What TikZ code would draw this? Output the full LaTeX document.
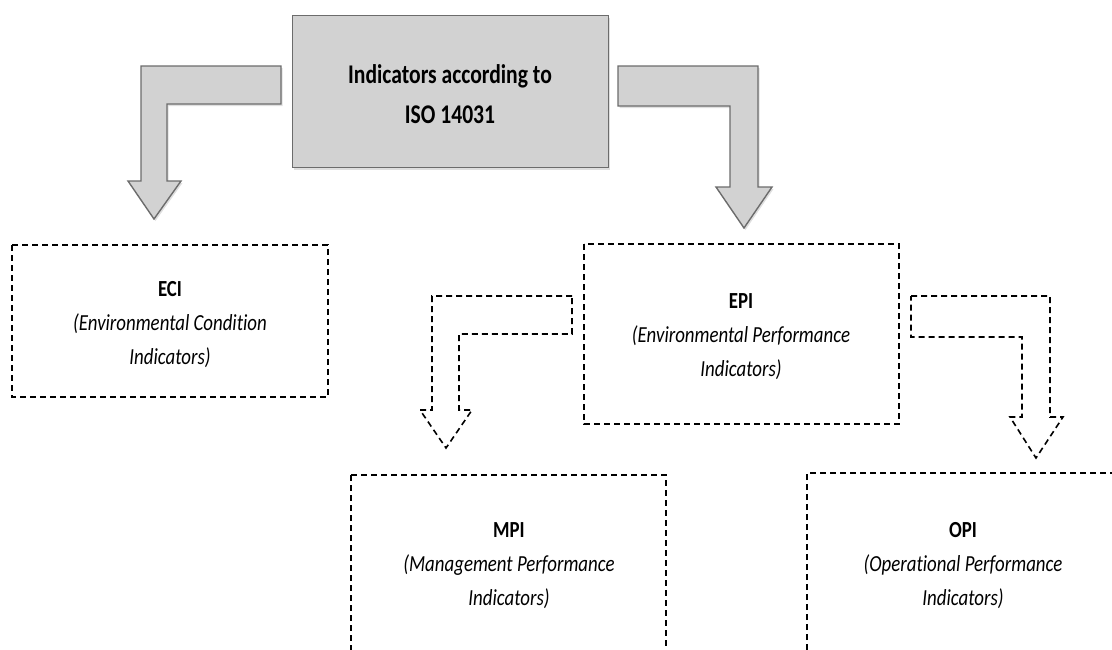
\documentclass[tikz,border=0pt]{standalone}
\usepackage{fontspec}
\setmainfont{Carlito}
\newfontfamily\titlefont{Carlito}[FakeStretch=0.8, Ligatures=NoCommon]
\newfontfamily\labelfont{Carlito}[FakeStretch=0.82, Ligatures=NoCommon]
\usetikzlibrary{shadows}
\begin{document}
\begin{tikzpicture}[x=1pt,y=-1pt,
  blockarrow/.style={fill=gray!35, draw=gray!85!black, line width=1.4pt, line join=miter,
    drop shadow={shadow xshift=1.5pt, shadow yshift=-2pt, opacity=0.25}},
  dasharrow/.style={draw=black, line width=1.6pt, dash pattern=on 6pt off 4pt},
  dashbox/.style={draw=black, line width=1.5pt, dash pattern=on 6pt off 4pt},
  title/.style={font=\titlefont\fontsize{27}{40}\selectfont\bfseries, align=center},
  label/.style={font=\labelfont\fontsize{23}{34}\selectfont, align=center, text=black}]
\useasboundingbox (0,0) rectangle (1112,649);
\clip (0,0) rectangle (1112,649);

% main box
\node[blockarrow, minimum width=316pt, minimum height=152pt, anchor=north west,
  inner sep=0pt] (main) at (292,15) {};
\node[title] (maintext) at (450,94) {Indicators according to\\ISO 14031};

% grey bent arrow to the left
\path[blockarrow] (281,66) -- (141,66) -- (141,181) -- (128,181) -- (154,219)
  -- (181,181) -- (167,181) -- (167,104) -- (281,104) -- cycle;
% grey bent arrow to the right
\path[blockarrow] (618,66) -- (758,66) -- (758,187) -- (772,187) -- (744,228)
  -- (716,187) -- (730,187) -- (730,106) -- (618,106) -- cycle;

% indicator boxes
\draw[dashbox] (12,245) rectangle (328,397);
\node[label] (eci) at (170,325) {\textbf{ECI}\\\textit{(Environmental Condition}\\\textit{Indicators)}};

\draw[dashbox] (584,244) rectangle (899,424);
\node[label] (epi) at (741,337) {\textbf{EPI}\\\textit{(Environmental Performance}\\\textit{Indicators)}};

\draw[dashbox] (351,475) -- (351,680);
\draw[dashbox] (351,475) -- (666,475) -- (666,680);
\node[label] (mpi) at (509,566) {\textbf{MPI}\\\textit{(Management Performance}\\\textit{Indicators)}};

\draw[dashbox] (807,680) -- (807,473) -- (1130,473);
\node[label] (opi) at (963,566) {\textbf{OPI}\\\textit{(Operational Performance}\\\textit{Indicators)}};

% dashed bent arrows
\draw[dasharrow] (572,296) -- (432,296) -- (432,410) -- (420,410) -- (446,448)
  -- (472,410) -- (459,410) -- (459,334) -- (572,334) -- cycle;
\draw[dasharrow] (911,296) -- (1050,296) -- (1050,417) -- (1063,417) -- (1036,458)
  -- (1010,417) -- (1022,417) -- (1022,337) -- (911,337) -- cycle;
\end{tikzpicture}
\end{document}
